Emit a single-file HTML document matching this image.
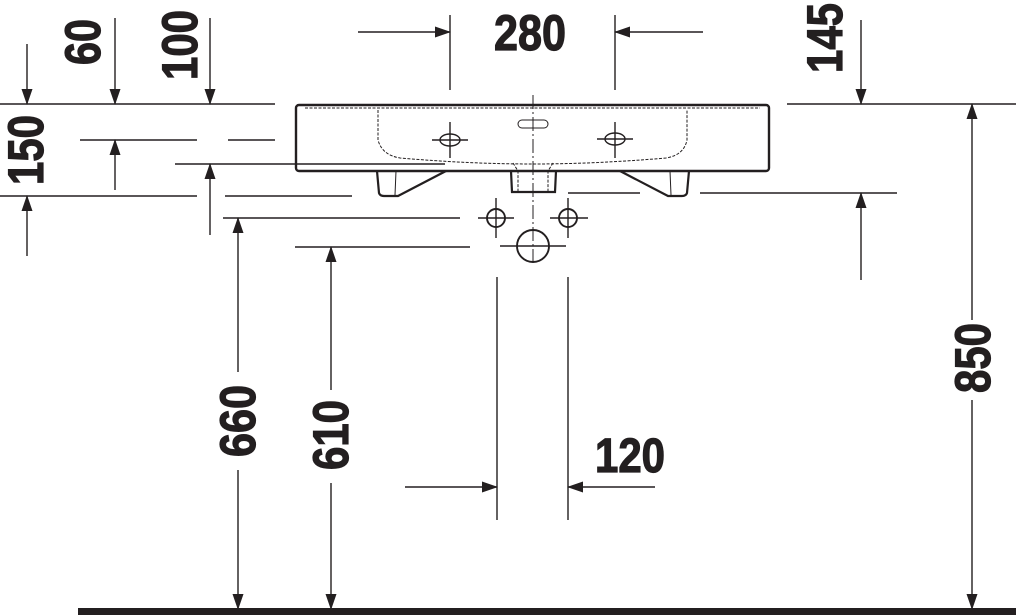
<!DOCTYPE html>
<html><head><style>
html,body{margin:0;padding:0;background:#fff;}
svg{display:block;}
text{font-family:"Liberation Sans Narrow","Liberation Sans",sans-serif;font-weight:bold;fill:#231f20;stroke:#231f20;stroke-width:1.2;}
</style></head><body>
<svg width="1016" height="615" viewBox="0 0 1016 615" xmlns="http://www.w3.org/2000/svg">
<defs>
<marker id="a" markerWidth="16" markerHeight="12" refX="15" refY="6" orient="auto" markerUnits="userSpaceOnUse">
<path d="M0,0.5 L16,6 L0,11.5 Z" fill="#231f20"/>
</marker>
</defs>
<g stroke="#231f20" stroke-width="1.4" fill="none">
<line x1="0" y1="104" x2="275" y2="104"/>
<line x1="80" y1="140" x2="197" y2="140"/>
<line x1="228" y1="140" x2="275" y2="140"/>
<line x1="175" y1="164" x2="445" y2="164"/>
<line x1="0" y1="196" x2="197" y2="196"/>
<line x1="225" y1="196" x2="352" y2="196"/>
<line x1="223" y1="218" x2="460" y2="218"/>
<line x1="295" y1="247" x2="470" y2="247"/>
<line x1="787" y1="104" x2="1016" y2="104"/>
<line x1="568" y1="193" x2="640" y2="193"/>
<line x1="700" y1="193" x2="897" y2="193"/>
<line x1="450" y1="15" x2="450" y2="90"/>
<line x1="615" y1="15" x2="615" y2="90"/>
<line x1="358" y1="32" x2="450" y2="32" marker-end="url(#a)"/>
<line x1="703" y1="32" x2="615" y2="32" marker-end="url(#a)"/>
<line x1="115" y1="18" x2="115" y2="104" marker-end="url(#a)"/>
<line x1="210" y1="18" x2="210" y2="104" marker-end="url(#a)"/>
<line x1="27" y1="44" x2="27" y2="104" marker-end="url(#a)"/>
<line x1="27" y1="256" x2="27" y2="196" marker-end="url(#a)"/>
<line x1="115" y1="190" x2="115" y2="140" marker-end="url(#a)"/>
<line x1="210" y1="235" x2="210" y2="164" marker-end="url(#a)"/>
<line x1="238" y1="372" x2="238" y2="218" marker-end="url(#a)"/>
<line x1="238" y1="470" x2="238" y2="609" marker-end="url(#a)"/>
<line x1="331" y1="390" x2="331" y2="247" marker-end="url(#a)"/>
<line x1="331" y1="483" x2="331" y2="609" marker-end="url(#a)"/>
<line x1="497" y1="277" x2="497" y2="520"/>
<line x1="568" y1="277" x2="568" y2="520"/>
<line x1="405" y1="487" x2="497" y2="487" marker-end="url(#a)"/>
<line x1="655" y1="487" x2="568" y2="487" marker-end="url(#a)"/>
<line x1="861" y1="20" x2="861" y2="104" marker-end="url(#a)"/>
<line x1="861" y1="280" x2="861" y2="193" marker-end="url(#a)"/>
<line x1="972" y1="320" x2="972" y2="104" marker-end="url(#a)"/>
<line x1="972" y1="400" x2="972" y2="609" marker-end="url(#a)"/>
<line x1="533" y1="95" x2="533" y2="262" stroke-dasharray="14,3,2,3" stroke-width="1"/>
<rect x="296" y="105" width="473" height="66" rx="3" stroke-width="2.4"/>
<path d="M305,108 L760,108" stroke-dasharray="3,1.5" stroke-width="1"/>
<path d="M378,110 L378,140 Q382,155 400,158 Q470,164 533,164 Q596,164 666,158 Q684,155 687,140 L687,110" stroke-dasharray="3,1.5" stroke-width="1"/>
<path d="M377,171 L379,193 Q380,196 384,196 L398,196 L446,171" stroke-width="2.2"/>
<line x1="396" y1="171" x2="395" y2="195" stroke-width="1"/>
<path d="M689,171 L687,193 Q686,196 682,196 L668,196 L620,171" stroke-width="2.2"/>
<line x1="670" y1="171" x2="671" y2="195" stroke-width="1"/>
<path d="M511,171 L512,192 L555,192 L556,171" stroke-width="2.2"/>
<path d="M513,163 L518,171 L518,192 M553,163 L548,171 L548,192 M518,171 L548,171" stroke-dasharray="3,1.5" stroke-width="1"/>
<ellipse cx="450" cy="140" rx="10" ry="6"/>
<line x1="432" y1="140" x2="468" y2="140"/><line x1="450" y1="122" x2="450" y2="158"/>
<ellipse cx="615" cy="139" rx="10" ry="6"/>
<line x1="597" y1="139" x2="633" y2="139"/><line x1="615" y1="122" x2="615" y2="158"/>
<rect x="518" y="120" width="30" height="8" rx="4" stroke-width="1"/>
<circle cx="496" cy="218" r="9" stroke-width="1.9"/>
<line x1="478" y1="218" x2="514" y2="218"/><line x1="496" y1="198" x2="496" y2="238"/>
<circle cx="568" cy="218" r="9" stroke-width="1.9"/>
<line x1="550" y1="218" x2="588" y2="218"/><line x1="568" y1="198" x2="568" y2="238"/>
<circle cx="533" cy="246" r="16" stroke-width="1.9"/>
<line x1="500" y1="246" x2="566" y2="246"/>
</g>
<rect x="78" y="608" width="938" height="7" fill="#231f20"/>
<text x="530" y="50" font-size="50" text-anchor="middle" textLength="72" lengthAdjust="spacingAndGlyphs">280</text>
<text x="630" y="472" font-size="48" text-anchor="middle" textLength="70" lengthAdjust="spacingAndGlyphs">120</text>
<g font-size="50">
<text transform="translate(100,42) rotate(-90)" text-anchor="middle" textLength="46" lengthAdjust="spacingAndGlyphs">60</text>
<text transform="translate(197,45) rotate(-90)" text-anchor="middle" textLength="70" lengthAdjust="spacingAndGlyphs">100</text>
<text transform="translate(43,150) rotate(-90)" text-anchor="middle" textLength="70" lengthAdjust="spacingAndGlyphs">150</text>
<text transform="translate(842,38) rotate(-90)" text-anchor="middle" textLength="70" lengthAdjust="spacingAndGlyphs">145</text>
<text transform="translate(990,358) rotate(-90)" text-anchor="middle" textLength="70" lengthAdjust="spacingAndGlyphs">850</text>
<text transform="translate(255,421) rotate(-90)" text-anchor="middle" textLength="72" lengthAdjust="spacingAndGlyphs">660</text>
<text transform="translate(348,435) rotate(-90)" text-anchor="middle" textLength="70" lengthAdjust="spacingAndGlyphs">610</text>
</g>
</svg>
</body></html>
